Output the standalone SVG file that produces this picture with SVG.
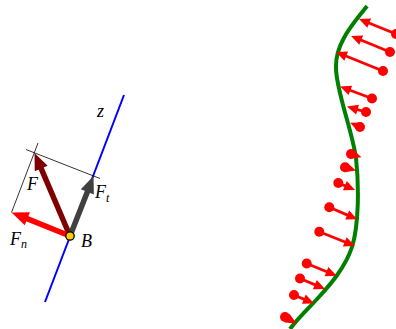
<svg xmlns="http://www.w3.org/2000/svg" width="396" height="329" viewBox="0 0 396 329">
<style>
.lbl{font-family:"Liberation Serif","Times New Roman",serif;font-style:italic;font-size:18px;fill:#000}
.sub{font-size:12px}
.thin{stroke:#000;stroke-width:0.8;fill:none}
.ra{stroke:#ff0000;stroke-width:2.8;fill:none;marker-end:url(#hr)}
.dot{fill:#ff0000}
</style>
<defs>
<marker id="hr" markerUnits="userSpaceOnUse" markerWidth="11" markerHeight="10" refX="1" refY="5" orient="auto" overflow="visible"><path d="M0,0 L11,5 L0,10 z" fill="#ff0000"/></marker>
<marker id="hF" markerUnits="userSpaceOnUse" markerWidth="17" markerHeight="14" refX="1" refY="7" orient="auto" overflow="visible"><path d="M0,0 L17,7 L0,14 z" fill="#800000"/></marker>
<marker id="hT" markerUnits="userSpaceOnUse" markerWidth="17" markerHeight="14" refX="1" refY="7" orient="auto" overflow="visible"><path d="M0,0 L17,7 L0,14 z" fill="#404040"/></marker>
<marker id="hN" markerUnits="userSpaceOnUse" markerWidth="17" markerHeight="14" refX="1" refY="7" orient="auto" overflow="visible"><path d="M0,0 L17,7 L0,14 z" fill="#ff0000"/></marker>
</defs>
<g id="z-axis"><line x1="124" y1="95" x2="45" y2="302" stroke="#0000ff" stroke-width="2"/></g>
<g id="construction">
<line class="thin" x1="11.5" y1="212.5" x2="38" y2="143"/>
<line class="thin" x1="26" y1="149.5" x2="100" y2="178.5"/>
</g>
<g id="connectors">
<line x1="70" y1="236" x2="40.8" y2="167.7" stroke="#800000" stroke-width="5.5" marker-end="url(#hF)"/>
<line x1="70" y1="236" x2="87.7" y2="190.9" stroke="#404040" stroke-width="5.5" marker-end="url(#hT)"/>
<line x1="70" y1="236" x2="26.4" y2="218.4" stroke="#ff0000" stroke-width="5.5" marker-end="url(#hN)"/>
</g>
<g id="B"><circle cx="70" cy="236" r="4.2" fill="#ffcc00" stroke="#000" stroke-width="1.3"/></g>
<g id="labels">
<text class="lbl" x="97" y="117">z</text>
<text class="lbl" x="27" y="190">F</text>
<text class="lbl" x="95" y="198">F<tspan class="sub" dy="4">t</tspan></text>
<text class="lbl" x="10" y="245">F<tspan class="sub" dy="3">n</tspan></text>
<text class="lbl" x="81" y="247">B</text>
</g>
<g id="curve"><path d="M367,6 C355,22 335,42 336,68 C336,90 352,130 356,158 C359,185 359,225 352,247 C345,268 330,285 318,298 C308,309 298,318 290,329" fill="none" stroke="#008000" stroke-width="4"/></g>
<g id="load-arrows">
<line class="ra" x1="396" y1="34" x2="368.3" y2="22.8"/><circle class="dot" cx="396" cy="34" r="5"/>
<line class="ra" x1="390" y1="52" x2="360.3" y2="39.8"/><circle class="dot" cx="390" cy="52" r="5"/>
<line class="ra" x1="383" y1="71" x2="345.3" y2="55.7"/><circle class="dot" cx="383" cy="71" r="5"/>
<line class="ra" x1="372" y1="98.5" x2="349.4" y2="90"/><circle class="dot" cx="372" cy="98.5" r="5"/>
<line class="ra" x1="366" y1="112" x2="356.6" y2="109.3"/><circle class="dot" cx="366" cy="112" r="5"/>
<line class="ra" x1="360" y1="127" x2="359.3" y2="126.7"/><circle class="dot" cx="360" cy="127" r="5"/>
<line class="ra" x1="351" y1="154" x2="352" y2="154.3"/><circle class="dot" cx="351" cy="154" r="5"/>
<line class="ra" x1="345" y1="167.3" x2="346.4" y2="167.7"/><circle class="dot" cx="345" cy="167.3" r="5"/>
<line class="ra" x1="338.3" y1="183" x2="345.8" y2="186.1"/><circle class="dot" cx="338.3" cy="183" r="5"/>
<line class="ra" x1="329.3" y1="207.3" x2="348.1" y2="215.4"/><circle class="dot" cx="329.3" cy="207.3" r="5"/>
<line class="ra" x1="319.3" y1="231.7" x2="345.7" y2="242.3"/><circle class="dot" cx="319.3" cy="231.7" r="5"/>
<line class="ra" x1="306.7" y1="263.5" x2="327.4" y2="272"/><circle class="dot" cx="306.7" cy="263.5" r="5"/>
<line class="ra" x1="300" y1="278.5" x2="315.8" y2="285.1"/><circle class="dot" cx="300" cy="278.5" r="5"/>
<line class="ra" x1="294" y1="295" x2="304.8" y2="299.6"/><circle class="dot" cx="294" cy="295" r="5"/>
<line class="ra" x1="285" y1="317" x2="287.9" y2="318.6"/><circle class="dot" cx="285" cy="317" r="5"/>
</g>
</svg>
